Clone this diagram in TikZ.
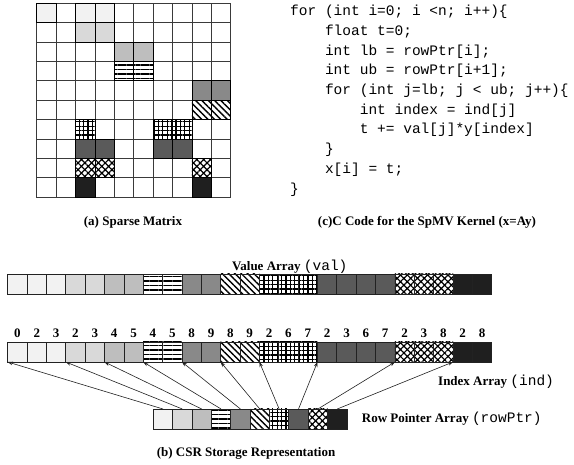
\documentclass[tikz,border=0pt]{standalone}
\usepackage{fontspec}
\setmainfont{Liberation Serif}
\setmonofont{Liberation Mono}
\usetikzlibrary{arrows.meta,patterns.meta}
\definecolor{cg0}{HTML}{F2F2F2}
\definecolor{cg1}{HTML}{D9D9D9}
\definecolor{cg2}{HTML}{BEBEBE}
\definecolor{cg4}{HTML}{898989}
\definecolor{cg7}{HTML}{5A5A5A}
\definecolor{cg9}{HTML}{1F1F1F}
\definecolor{cgrid}{HTML}{3A3A3A}
\definecolor{cdark}{HTML}{222222}
\newcommand{\arrname}[1]{{\fontsize{14.5}{16}\selectfont\mdseries\ttfamily #1}}

\begin{document}
\begin{tikzpicture}[x=1pt,y=-1pt,
  cell/.style={draw=cdark, line width=0.7pt, minimum width=19.36pt, minimum height=20pt, inner sep=0, outer sep=0},
  mcell/.style={draw=cgrid, line width=0.8pt, minimum width=19.4pt, minimum height=19.4pt, inner sep=0, outer sep=0},
  p0/.style={fill=cg0},
  p1/.style={fill=cg1},
  p2/.style={fill=cg2},
  p3/.style={fill=white, pattern={Lines[angle=0, distance=4.6pt, line width=1.6pt]}},
  p4/.style={fill=cg4},
  p5/.style={fill=white, pattern={Lines[angle=-45, distance=4.5pt, line width=1.4pt]}},
  p6/.style={fill=white, pattern={Hatch[angle=0, distance=4.4pt, line width=1.1pt]}},
  p7/.style={fill=cg7},
  p8/.style={fill=white, pattern={Hatch[angle=45, distance=4.8pt, line width=1.2pt]}},
  p9/.style={fill=cg9},
  lbl/.style={font=\fontsize{13}{15}\selectfont\bfseries, inner sep=0},
  code/.style={font=\fontsize{14.5}{19.7}\selectfont\ttfamily, align=left, inner sep=0},
  arr/.style={-{Stealth[length=5pt, width=3.6pt]}, line width=0.6pt, draw=cdark}]

\fill[white] (0,0) rectangle (574,465);

% sparse matrix
\foreach \r in {0,...,9}
  \foreach \c in {0,...,9}
    \node[mcell] (m-\r-\c) at (46.4+19.4*\c, 13+19.4*\r) {};

% non-zeros: matrix entry, value array, index array
\foreach \r/\c [count=\k from 0] in {0/0,0/2,0/3,1/2,1/3,2/4,2/5,3/4,3/5,4/8,4/9,5/8,5/9,6/2,6/6,6/7,7/2,7/3,7/6,7/7,8/2,8/3,8/8,9/2,9/8} {
  \node[mcell, p\r, draw=black] at (m-\r-\c) {};
  \node[cell, p\r] (val-\k) at (17.4+19.36*\k, 284) {};
  \node[cell, p\r] (ind-\k) at (17.4+19.36*\k, 352) {};
  \node[lbl] (num-\k) at (17.4+19.36*\k, 333) {\c};
}

% row pointers
\foreach \r/\p in {0/0,1/3,2/5,3/7,4/9,5/11,6/13,7/16,8/20,9/23} {
  \node[cell, p\r] (ptr-\r) at (163+19.36*\r, 419) {};
  \draw[arr] (ptr-\r.north) -- (ind-\p.south west);
}

\node[code, anchor=north west] (kernel) at (290,5) {for (int i=0; i <n; i++)\{\\
\ \ \ \ float t=0;\\
\ \ \ \ int lb = rowPtr[i];\\
\ \ \ \ int ub = rowPtr[i+1];\\
\ \ \ \ for (int j=lb; j < ub; j++)\{\\
\ \ \ \ \ \ \ \ int index = ind[j]\\
\ \ \ \ \ \ \ \ t += val[j]*y[index]\\
\ \ \ \ \}\\
\ \ \ \ x[i] = t;\\
\}};

\node[lbl] (capa) at (133,222) {(a) Sparse Matrix};
\node[lbl] (capc) at (427,222) {(c)C Code for the SpMV Kernel (x=Ay)};
\node[lbl, anchor=west] (valname) at (232,267) {Value Array \arrname{(val)}};
\node[lbl, anchor=west] (indname) at (438,382) {Index Array \arrname{(ind)}};
\node[lbl, anchor=west] (ptrname) at (361.7,419) {Row Pointer Array \arrname{(rowPtr)}};
\node[lbl] (capb) at (246,453) {(b) CSR Storage Representation};
\end{tikzpicture}
\end{document}
